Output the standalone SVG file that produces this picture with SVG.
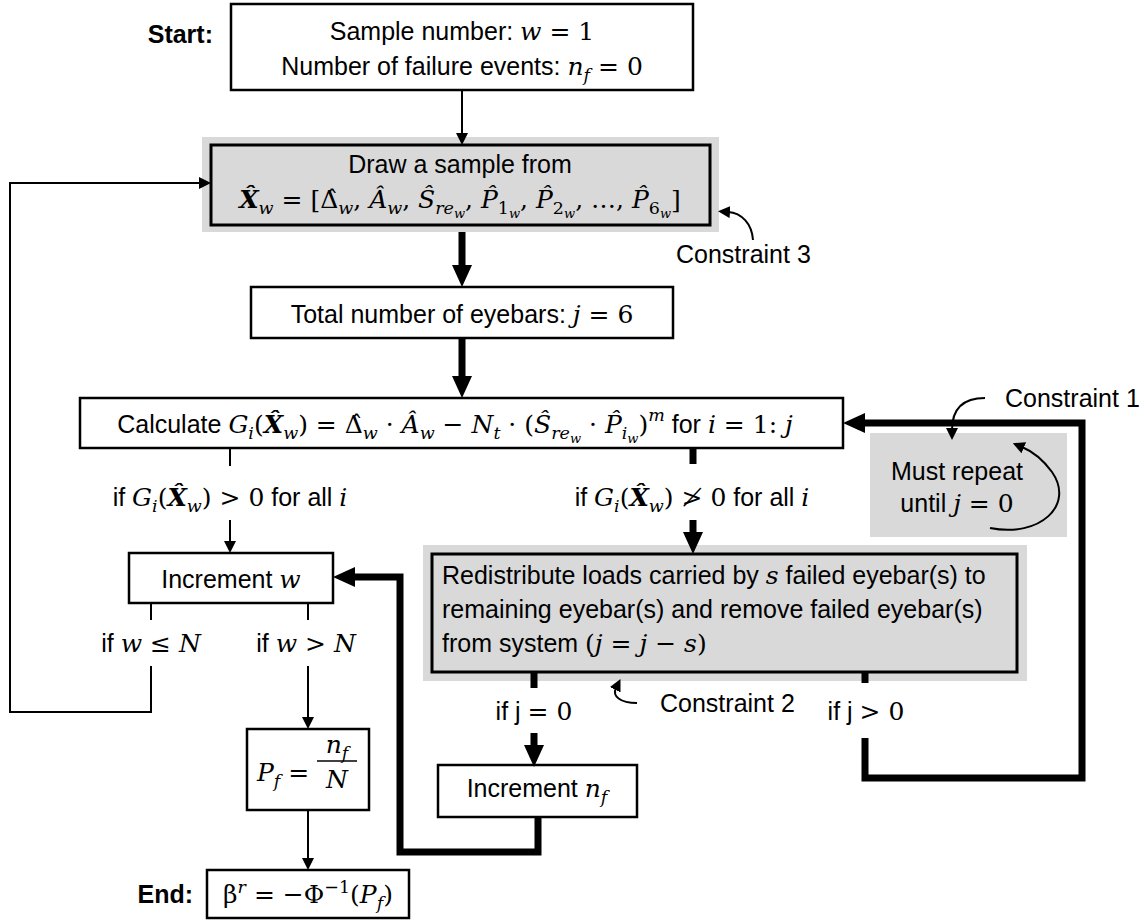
<svg xmlns="http://www.w3.org/2000/svg" width="1148" height="921" viewBox="0 0 1148 921">
  <defs>
    <style>
      .t{font-family:"Liberation Sans",Arial,sans-serif;font-size:25px;fill:#000}
      .bold{font-weight:bold}
      .mu{font-family:"DejaVu Serif","Liberation Serif",serif;font-size:25px;font-style:normal}
      .m{font-family:"DejaVu Serif","Liberation Serif",serif;font-size:25px;font-style:italic}
      .s{font-size:17.5px}
      .ss{font-size:13px}
      .b{font-weight:bold}
      .box{fill:#fff;stroke:#000;stroke-width:2.5}
      .gbox{fill:#d9d9d9;stroke:#000;stroke-width:3}
      .halo{fill:#d9d9d9;stroke:none}
      .c{fill:none;stroke:#000;stroke-width:2}
      .k{fill:none;stroke:#000;stroke-width:7;stroke-linejoin:miter}
    </style>
    <marker id="ah" markerUnits="userSpaceOnUse" markerWidth="12" markerHeight="12" refX="0" refY="6" orient="auto">
      <path d="M0,0 L12,6 L0,12 z" fill="#000"/>
    </marker>
    <marker id="ahk" markerUnits="userSpaceOnUse" markerWidth="22" markerHeight="20" refX="0" refY="10" orient="auto">
      <path d="M0,0 L22,10 L0,20 z" fill="#000"/>
    </marker>
    <marker id="ahc" markerUnits="userSpaceOnUse" markerWidth="12" markerHeight="12" refX="2" refY="6" orient="auto">
      <path d="M0,0 L12,6 L0,12 z" fill="#000"/>
    </marker>
  </defs>

  <rect width="1148" height="921" fill="#fff"/>

  <!-- start -->
  <g id="start">
    <text class="t bold" x="213" y="43" text-anchor="end">Start:</text>
    <rect class="box" x="231" y="4" width="462" height="86"/>
    <text class="t" x="462" y="40" text-anchor="middle">Sample number: <tspan class="m">w</tspan><tspan class="mu"> = 1</tspan></text>
    <text class="t" x="462" y="75" text-anchor="middle">Number of failure events: <tspan class="m">n</tspan><tspan class="m s" dy="6">f</tspan><tspan class="mu" dy="-6"> = 0</tspan></text>
  </g>

  <!-- draw sample -->
  <g id="draw">
    <rect class="halo" x="202" y="137" width="517" height="95"/>
    <rect class="gbox" x="211" y="145" width="499" height="80"/>
    <text class="t" x="460" y="173" text-anchor="middle">Draw a sample from</text>
    <text class="mu" x="460" y="208" text-anchor="middle"><tspan class="m b">X&#x302;</tspan><tspan class="m s" dy="6">w</tspan><tspan dy="-6"> = [Δ&#x302;</tspan><tspan class="m s" dy="6">w</tspan><tspan dy="-6">, </tspan><tspan class="m">A&#x302;</tspan><tspan class="m s" dy="6">w</tspan><tspan dy="-6">, </tspan><tspan class="m">S&#x302;</tspan><tspan class="m s" dy="6">re</tspan><tspan class="m ss" dy="4">w</tspan><tspan dy="-10">, </tspan><tspan class="m">P&#x302;</tspan><tspan class="s" dy="6">1</tspan><tspan class="m ss" dy="4">w</tspan><tspan dy="-10">, </tspan><tspan class="m">P&#x302;</tspan><tspan class="s" dy="6">2</tspan><tspan class="m ss" dy="4">w</tspan><tspan dy="-10">, …, </tspan><tspan class="m">P&#x302;</tspan><tspan class="s" dy="6">6</tspan><tspan class="m ss" dy="4">w</tspan><tspan dy="-10">]</tspan></text>
  </g>

  <g id="constraint3">
    <text class="t" x="676" y="263">Constraint 3</text>
  </g>

  <!-- total eyebars -->
  <g id="total">
    <rect class="box" x="251" y="287" width="422" height="51"/>
    <text class="t" x="462" y="323" text-anchor="middle">Total number of eyebars: <tspan class="m">j</tspan><tspan class="mu"> = 6</tspan></text>
  </g>

  <!-- limit state -->
  <g id="calculate">
    <rect class="box" x="80" y="398" width="763" height="50"/>
    <text class="t" x="455" y="433" text-anchor="middle">Calculate <tspan class="m">G</tspan><tspan class="m s" dy="6">i</tspan><tspan class="mu" dy="-6">(</tspan><tspan class="m b">X&#x302;</tspan><tspan class="m s" dy="6">w</tspan><tspan class="mu" dy="-6">) = Δ&#x302;</tspan><tspan class="m s" dy="6">w</tspan><tspan class="mu" dy="-6"> · </tspan><tspan class="m">A&#x302;</tspan><tspan class="m s" dy="6">w</tspan><tspan class="mu" dy="-6"> − </tspan><tspan class="m">N</tspan><tspan class="m s" dy="6">t</tspan><tspan class="mu" dy="-6"> · (</tspan><tspan class="m">S&#x302;</tspan><tspan class="m s" dy="6">re</tspan><tspan class="m ss" dy="4">w</tspan><tspan class="mu" dy="-10"> · </tspan><tspan class="m">P&#x302;</tspan><tspan class="m s" dy="6">i</tspan><tspan class="m ss" dy="4">w</tspan><tspan class="mu" dy="-10">)</tspan><tspan class="m s" dy="-12">m</tspan><tspan dy="12"> for </tspan><tspan class="m">i</tspan><tspan class="mu"> = 1: </tspan><tspan class="m">j</tspan></text>
  </g>

  <g id="constraint1">
    <text class="t" x="1005" y="407">Constraint 1</text>
    <rect class="halo" x="870" y="433" width="197" height="104"/>
    <text class="t" x="957" y="480" text-anchor="middle">Must repeat</text>
    <text class="t" x="957" y="512" text-anchor="middle">until <tspan class="m">j</tspan><tspan class="mu"> = 0</tspan></text>
  </g>

  <!-- branch labels -->
  <g id="cond-pass">
    <text class="t" x="230" y="506" text-anchor="middle">if <tspan class="m">G</tspan><tspan class="m s" dy="6">i</tspan><tspan class="mu" dy="-6">(</tspan><tspan class="m b">X&#x302;</tspan><tspan class="m s" dy="6">w</tspan><tspan class="mu" dy="-6">) &gt; 0</tspan> for all <tspan class="m">i</tspan></text>
  </g>
  <g id="cond-fail">
    <text class="t" x="692" y="506" text-anchor="middle">if <tspan class="m">G</tspan><tspan class="m s" dy="6">i</tspan><tspan class="mu" dy="-6">(</tspan><tspan class="m b">X&#x302;</tspan><tspan class="m s" dy="6">w</tspan><tspan class="mu" dy="-6">) ≯ 0</tspan> for all <tspan class="m">i</tspan></text>
  </g>

  <!-- increment w -->
  <g id="increment-w">
    <rect class="box" x="129" y="553" width="204" height="50"/>
    <text class="t" x="231" y="588" text-anchor="middle">Increment <tspan class="m">w</tspan></text>
  </g>
  <g id="cond-w">
    <text class="t" x="151" y="652" text-anchor="middle">if <tspan class="m">w</tspan><tspan class="mu"> ≤ </tspan><tspan class="m">N</tspan></text>
    <text class="t" x="306" y="652" text-anchor="middle">if <tspan class="m">w</tspan><tspan class="mu"> &gt; </tspan><tspan class="m">N</tspan></text>
  </g>

  <!-- redistribute -->
  <g id="redistribute">
    <rect class="halo" x="423" y="545" width="604" height="136"/>
    <rect class="gbox" x="432" y="554" width="585" height="118"/>
    <text class="t" x="442" y="584">Redistribute loads carried by <tspan class="m">s</tspan> failed eyebar(s) to</text>
    <text class="t" x="442" y="618">remaining eyebar(s) and remove failed eyebar(s)</text>
    <text class="t" x="442" y="652">from system <tspan class="mu">(</tspan><tspan class="m">j</tspan><tspan class="mu"> = </tspan><tspan class="m">j</tspan><tspan class="mu"> − </tspan><tspan class="m">s</tspan><tspan class="mu">)</tspan></text>
  </g>
  <g id="constraint2">
    <text class="t" x="660" y="712">Constraint 2</text>
  </g>
  <g id="cond-j">
    <text class="t" x="534" y="720" text-anchor="middle">if j <tspan class="mu">= 0</tspan></text>
    <text class="t" x="866" y="720" text-anchor="middle">if j <tspan class="mu">&gt; 0</tspan></text>
  </g>

  <!-- increment nf -->
  <g id="increment-nf">
    <rect class="box" x="438" y="765" width="199" height="52"/>
    <text class="t" x="537" y="797" text-anchor="middle">Increment <tspan class="m">n</tspan><tspan class="m s" dy="6">f</tspan></text>
  </g>

  <!-- failure probability -->
  <g id="pf">
    <rect class="box" x="247" y="729" width="122" height="81"/>
    <text class="mu" x="257" y="781"><tspan class="m">P</tspan><tspan class="m s" dy="6">f</tspan><tspan dy="-6"> = </tspan></text>
    <text class="mu" x="337" y="753" text-anchor="middle"><tspan class="m">n</tspan><tspan class="m s" dy="6">f</tspan></text>
    <line x1="317" y1="761" x2="357" y2="761" stroke="#000" stroke-width="1.5"/>
    <text class="m" x="337" y="788" text-anchor="middle">N</text>
  </g>

  <!-- end -->
  <g id="end">
    <text class="t bold" x="193" y="903" text-anchor="end">End:</text>
    <rect class="box" x="207" y="870" width="202" height="48"/>
    <text class="mu" x="308" y="903" text-anchor="middle">β<tspan class="m s" dy="-10">r</tspan><tspan dy="10"> = −Φ</tspan><tspan class="s" dy="-10">−1</tspan><tspan dy="10">(</tspan><tspan class="m">P</tspan><tspan class="m s" dy="6">f</tspan><tspan dy="-6">)</tspan></text>
  </g>

  <!-- connectors, drawn on top so the arrowheads sit over the shaded frames -->
  <g id="connectors">
    <path class="c" d="M462,90 V133" marker-end="url(#ah)"/>
    <path class="c" d="M151,666 V712 H10 V183 H199" marker-end="url(#ah)"/>
    <path class="k" d="M462,232 V265" marker-end="url(#ahk)"/>
    <path class="k" d="M462,338 V376" marker-end="url(#ahk)"/>
    <path class="c" d="M230,448 V466"/>
    <path class="c" d="M230,520 V541" marker-end="url(#ah)"/>
    <path class="c" d="M151,603 V620"/>
    <path class="c" d="M308,603 V620"/>
    <path class="c" d="M308,666 V717" marker-end="url(#ah)"/>
    <path class="c" d="M308,810 V858" marker-end="url(#ah)"/>
    <path class="k" d="M693,448 V464"/>
    <path class="k" d="M693,520 V532" marker-end="url(#ahk)"/>
    <path class="k" d="M534,672 V688"/>
    <path class="k" d="M534,733 V745" marker-end="url(#ahk)"/>
    <path class="k" d="M538,817 V852 H400 V577 H355" marker-end="url(#ahk)"/>
    <path class="k" d="M865,672 V683"/>
    <path class="k" d="M865,738 V778 H1082 V423 H865" marker-end="url(#ahk)"/>
    <!-- constraint pointers -->
    <path class="c" d="M753,240 C752,224 742,213 728,212" marker-end="url(#ahc)"/>
    <path class="c" d="M985,398 C962,398 952,410 952,430" marker-end="url(#ahc)"/>
    <path class="c" d="M637,703 C620,703 612,696 616,688" marker-end="url(#ahc)"/>
    <path class="c" d="M990,528 C1040,538 1075,505 1052,472 C1044,461 1034,452 1022,447" marker-end="url(#ahc)"/>
  </g>
</svg>
